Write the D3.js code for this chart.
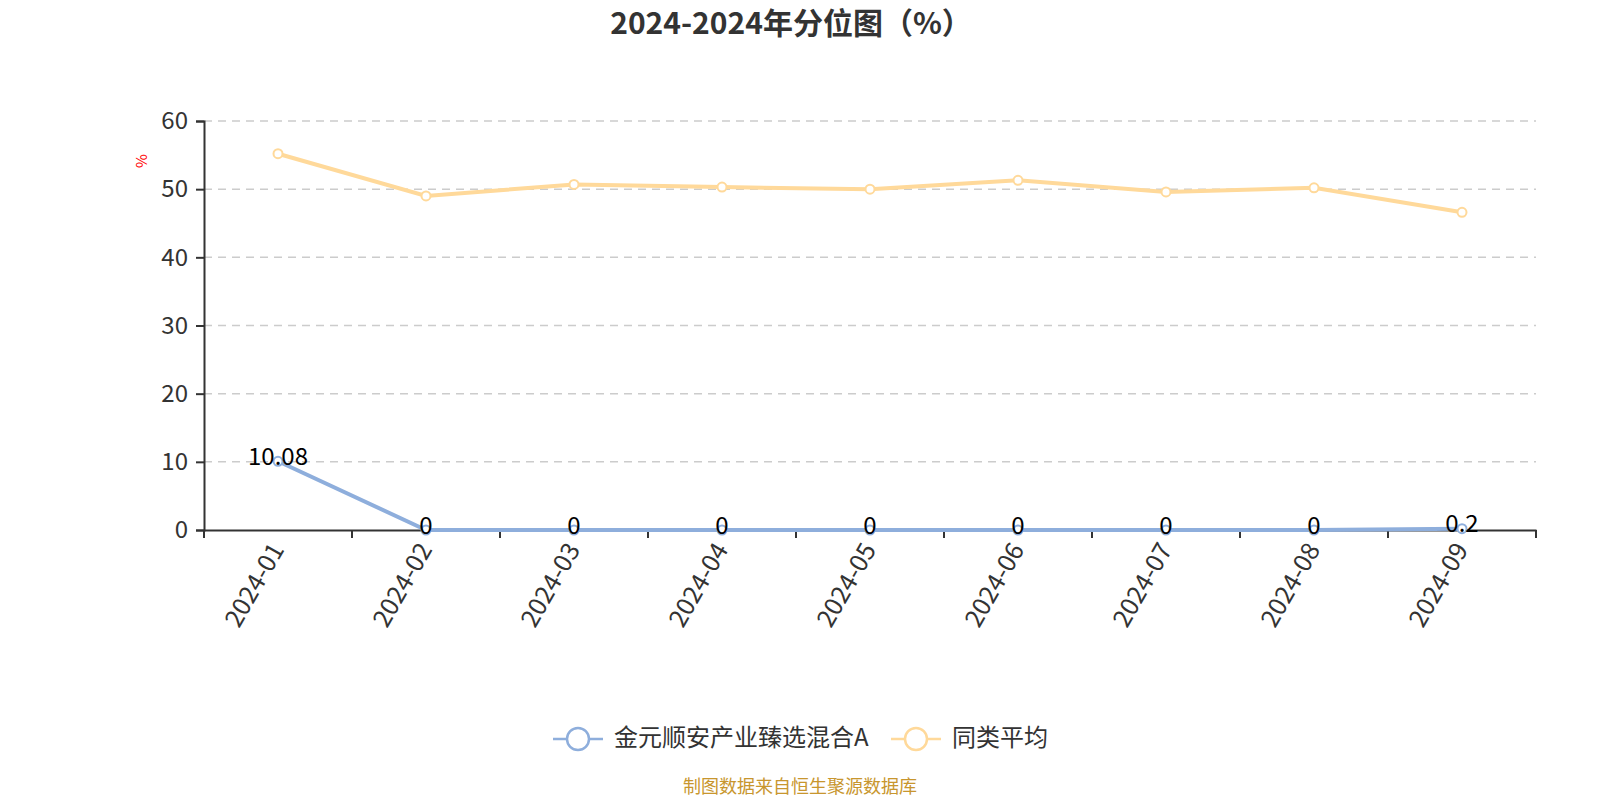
<!DOCTYPE html>
<html>
<head>
<meta charset="utf-8">
<script src="https://cdn.jsdelivr.net/npm/d3@7"></script>
<style>
  body { margin: 0; background: #fff; }
  text { font-family: "Noto Sans CJK SC", "Noto Sans", sans-serif; }
</style>
</head>
<body>
<script>
// chart data
const months = ["2024-01", "2024-02", "2024-03", "2024-04", "2024-05", "2024-06", "2024-07", "2024-08", "2024-09"];
const fundValues = [10.08, 0, 0, 0, 0, 0, 0, 0, 0.2];
const avgValues = [55.2, 49.0, 50.7, 50.3, 50.0, 51.3, 49.6, 50.2, 46.6];
const yTicks = [0, 10, 20, 30, 40, 50, 60];
const seriesNames = ["金元顺安产业臻选混合A", "同类平均"];

const W = 1600, H = 800;
const margin = { left: 204, right: 64, top: 121, bottom: 270 };
const blue = "#8eaedc", yellow = "#ffd99a";

const svg = d3.select(document.body).append("svg")
    .attr("width", W)
    .attr("height", H);

const x = d3.scaleBand()
    .domain(months)
    .range([margin.left, W - margin.right]);
const y = d3.scaleLinear()
    .domain([0, 60])
    .range([H - margin.bottom, margin.top]);

// title
svg.append("text")
    .attr("x", 791).attr("y", 34)
    .attr("text-anchor", "middle")
    .attr("font-size", 30).attr("font-weight", "bold")
    .attr("fill", "#333")
    .text("2024-2024年分位图（%）");

// grid lines
svg.append("g")
    .selectAll("line")
    .data(yTicks.filter(d => d > 0))
    .enter()
    .append("line")
    .attr("x1", margin.left).attr("x2", W - margin.right)
    .attr("y1", d => y(d)).attr("y2", d => y(d))
    .attr("stroke", "#ccc")
    .attr("stroke-width", 1.5)
    .attr("stroke-dasharray", "8,6");

// y axis
const yAxis = svg.append("g")
    .attr("transform", `translate(${margin.left},0)`)
    .call(d3.axisLeft(y).tickValues(yTicks).tickSize(8).tickPadding(8));
yAxis.select(".domain").attr("stroke", "#333").attr("stroke-width", 2);
yAxis.selectAll(".tick line").attr("stroke", "#333").attr("stroke-width", 2);
yAxis.selectAll(".tick text")
    .attr("font-size", 24).attr("fill", "#333")
    .attr("font-family", "'Noto Sans CJK SC', sans-serif");

svg.append("text")
    .attr("transform", "translate(147,161) rotate(-90)")
    .attr("text-anchor", "middle")
    .attr("font-size", 15)
    .attr("fill", "red")
    .text("%");

// x axis
const xAxis = svg.append("g")
    .attr("transform", `translate(0,${y(0)})`)
    .call(d3.axisBottom(x).tickSize(0).tickFormat(""));
xAxis.select(".domain").attr("stroke", "#333").attr("stroke-width", 2);

// tick marks at band edges
svg.append("g")
    .selectAll("line")
    .data(months.map(m => x(m)).concat([x.range()[1]]))
    .enter()
    .append("line")
    .attr("x1", d => d).attr("x2", d => d)
    .attr("y1", y(0)).attr("y2", y(0) + 8)
    .attr("stroke", "#333").attr("stroke-width", 2);

svg.append("g")
    .selectAll("text")
    .data(months)
    .enter()
    .append("text")
    .attr("transform", d => `translate(${x(d) + x.bandwidth() / 2 + 1},${y(0) + 16}) rotate(-60)`)
    .attr("text-anchor", "end")
    .attr("dominant-baseline", "middle")
    .attr("font-size", 25)
    .attr("fill", "#333")
    .text(d => d);

// lines
const cx = (d, i) => x(months[i]) + x.bandwidth() / 2;
const line = d3.line().x(cx).y(d => y(d));

[[avgValues, yellow], [fundValues, blue]].forEach(([vals, color]) => {
    svg.append("path")
        .datum(vals)
        .attr("d", line)
        .attr("fill", "none")
        .attr("stroke", color)
        .attr("stroke-width", 4);
    svg.append("g")
        .selectAll("circle")
        .data(vals)
        .enter()
        .append("circle")
        .attr("cx", cx).attr("cy", d => y(d))
        .attr("r", 4.5)
        .attr("fill", "#fff")
        .attr("stroke", color)
        .attr("stroke-width", 2);
});

// data labels for the fund series
svg.append("g")
    .selectAll("text")
    .data(fundValues)
    .enter()
    .append("text")
    .attr("x", cx)
    .attr("y", d => y(d) - 3)
    .attr("text-anchor", "middle")
    .attr("dominant-baseline", "middle")
    .attr("font-size", 24)
    .attr("fill", "#000")
    .text(d => d);

// legend
const legend = [
    { name: seriesNames[0], color: blue, x: 553 },
    { name: seriesNames[1], color: yellow, x: 891 },
];
legend.forEach(l => {
    const g = svg.append("g").attr("transform", `translate(${l.x},739)`);
    g.append("line").attr("x1", 0).attr("x2", 50).attr("y1", 0).attr("y2", 0)
        .attr("stroke", l.color).attr("stroke-width", 2.5);
    g.append("circle").attr("cx", 25).attr("cy", 0).attr("r", 11)
        .attr("fill", "#fff").attr("stroke", l.color).attr("stroke-width", 2.5);
    g.append("text").attr("x", 61).attr("y", 0)
        .attr("dominant-baseline", "middle")
        .attr("font-size", 24).attr("fill", "#333")
        .text(l.name);
});

// source note
svg.append("text")
    .attr("x", 800).attr("y", 788)
    .attr("text-anchor", "middle")
    .attr("dominant-baseline", "middle")
    .attr("font-size", 18)
    .attr("fill", "#c8962e")
    .text("制图数据来自恒生聚源数据库");
</script>
</body>
</html>
